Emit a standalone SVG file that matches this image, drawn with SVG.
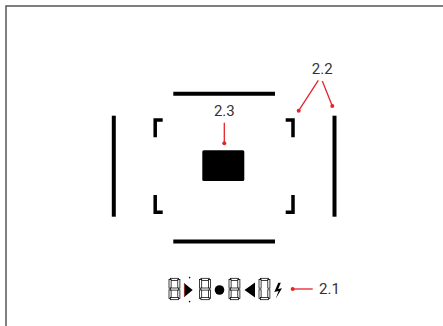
<svg xmlns="http://www.w3.org/2000/svg" xmlns:xlink="http://www.w3.org/1999/xlink" width="443" height="326" viewBox="0 0 443 326">
<style>
.bar{stroke:#000;stroke-width:4;fill:none;stroke-linecap:butt}
.brk{stroke:#000;stroke-width:3.5;fill:none;stroke-linejoin:miter;stroke-linecap:butt}
.seg{fill:#fff;stroke:#000;stroke-width:0.75}
.lbl{font-family:Roboto,"Liberation Sans",sans-serif;font-size:15px;fill:#333;text-anchor:middle}
.lead{stroke:#e4232b;stroke-width:1.3;fill:none}
.dot{fill:#e4232b}
</style>
<defs>
<g id="seg0">
<rect class="seg" x="1.6" y="0.3" width="8.3" height="2.1"/>
<rect class="seg" x="0.3" y="1.6" width="2.1" height="8.6"/>
<rect class="seg" x="9.1" y="1.6" width="2.1" height="8.6"/>
<rect class="seg" x="0.3" y="11.8" width="2.1" height="8.6"/>
<rect class="seg" x="9.1" y="11.8" width="2.1" height="8.6"/>
<rect class="seg" x="1.6" y="19.6" width="8.3" height="2.1"/>
</g>
<g id="seg8">
<use xlink:href="#seg0"/>
<rect class="seg" x="1.6" y="10" width="8.3" height="2.1"/>
</g>
</defs>
<rect width="443" height="326" fill="#fff"/>
<path d="M6,326 V6 H443" fill="none" stroke="#555" stroke-width="1.5"/>
<g id="frame-top"><line class="bar" x1="173.3" y1="93.8" x2="275" y2="93.8"/></g>
<g id="frame-bottom"><line class="bar" x1="173.3" y1="241.5" x2="275" y2="241.5"/></g>
<g id="frame-left"><line class="bar" x1="113.8" y1="115.7" x2="113.8" y2="216.7"/></g>
<g id="frame-right"><line class="bar" x1="334.5" y1="115.7" x2="334.5" y2="216.7"/></g>
<g id="brackets">
<path class="brk" d="M162.7,120 H155.2 V137.3"/>
<path class="brk" d="M285.7,120 H293 V137.3"/>
<path class="brk" d="M162.7,212.3 H155.2 V195"/>
<path class="brk" d="M285.7,212.3 H293 V195"/>
</g>
<g id="metering-field"><rect x="202.3" y="150.3" width="42" height="30.7" rx="1.5" fill="#000"/></g>
<g id="display">
<use xlink:href="#seg8" x="168.7" y="278"/>
<path d="M184,283 L192.7,290 L184,297.3 Z" fill="#000"/>
<line x1="184.4" y1="283.5" x2="184.4" y2="296.8" stroke="#b0402a" stroke-width="0.9"/>
<circle cx="189.6" cy="277.6" r="0.8" fill="#000"/>
<circle cx="189.6" cy="301.6" r="0.8" fill="#000"/>
<use xlink:href="#seg8" x="199.3" y="278"/>
<circle cx="219.5" cy="290" r="4.8" fill="#000"/>
<use xlink:href="#seg8" x="228.7" y="278"/>
<path d="M255,282.5 L244.5,290 L255,297.5 Z" fill="#000"/>
<use xlink:href="#seg0" x="258.7" y="278"/>
<path d="M278.3,282.8 L274.3,292 L278.6,291 L275.8,298.5 L282,288.2 L278.2,289 L280.8,282.8 Z" fill="#000"/>
</g>
<g id="label-2-1"><text class="lbl" x="329.5" y="293.5">2.1</text></g>
<g id="label-2-2"><text class="lbl" x="322.2" y="74">2.2</text></g>
<g id="label-2-3"><text class="lbl" x="224.3" y="115.7">2.3</text></g>
<g id="connectors">
<line class="lead" x1="224.3" y1="122.7" x2="224.3" y2="143.3"/>
<circle class="dot" cx="224.3" cy="143.3" r="2"/>
<line class="lead" x1="318.3" y1="80.3" x2="298.7" y2="110.7"/>
<circle class="dot" cx="298.7" cy="110.7" r="2"/>
<line class="lead" x1="322.3" y1="81" x2="332.3" y2="106"/>
<circle class="dot" cx="332.3" cy="106" r="2"/>
<line class="lead" x1="292.7" y1="289" x2="312.7" y2="289"/>
<circle class="dot" cx="292.7" cy="289" r="2"/>
</g>
</svg>
